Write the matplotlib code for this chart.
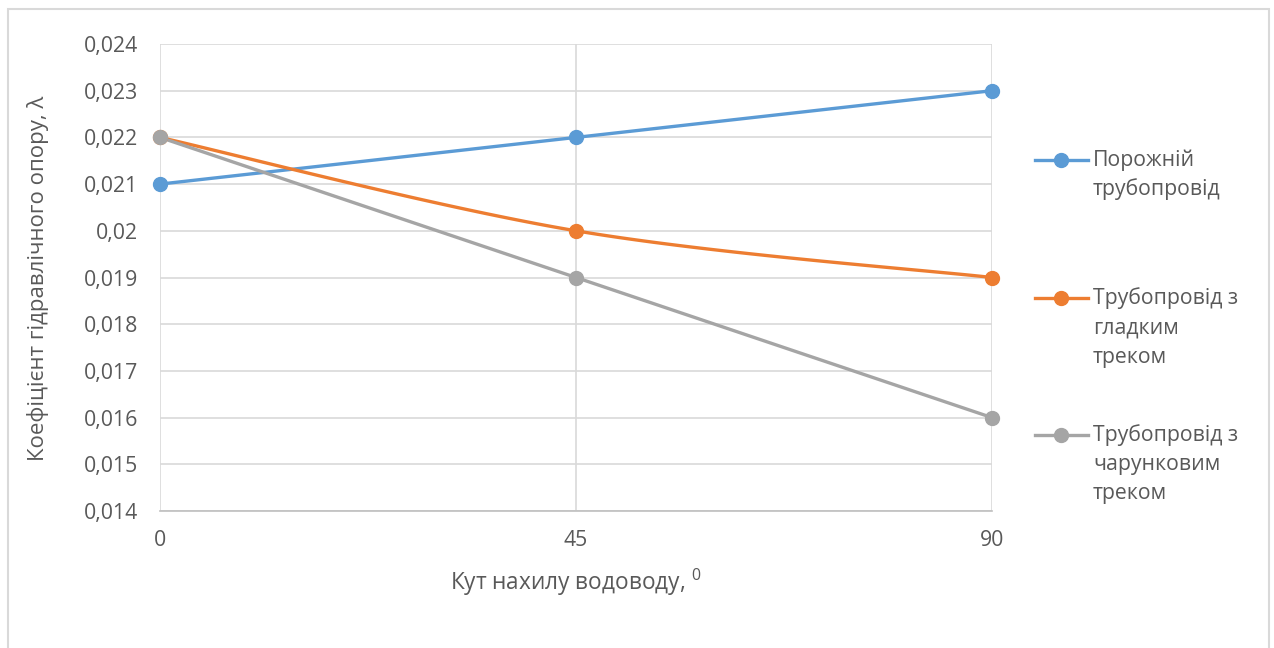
import matplotlib.pyplot as plt
import numpy as np
from matplotlib.lines import Line2D
from matplotlib.patches import Rectangle

plt.rcParams['font.family'] = ['Open Sans', 'DejaVu Sans']

# дані
angles = [0, 45, 90]
empty_pipe = [0.021, 0.022, 0.023]
smooth_track = [0.022, 0.020, 0.019]
cell_track = [0.022, 0.019, 0.016]

series_names = ['Порожній\nтрубопровід',
                'Трубопровід з\nгладким\nтреком',
                'Трубопровід з\nчарунковим\nтреком']
series_colors = ['#5B9BD5', '#ED7D31', '#A5A5A5']
y_ticks = [0.014, 0.015, 0.016, 0.017, 0.018, 0.019, 0.020, 0.021, 0.022, 0.023, 0.024]
x_ticks = [0, 45, 90]

text_color = '#595959'
grid_color = '#D9D9D9'
W, H = 1274, 648


def smooth(x, y, n=60):
    # згладжена лінія кривими Безьє, як у Excel
    pts = np.column_stack([x, y]).astype(float)
    ext = np.vstack([pts[0], pts, pts[-1]])
    out = []
    t = np.linspace(0, 1, n)[:, None]
    for i in range(len(pts) - 1):
        p0 = pts[i]
        p3 = pts[i + 1]
        p1 = p0 + (ext[i + 2] - ext[i]) / 6
        p2 = p3 - (ext[i + 3] - ext[i + 1]) / 6
        seg = ((1 - t) ** 3) * p0 + 3 * ((1 - t) ** 2) * t * p1 + 3 * (1 - t) * t ** 2 * p2 + t ** 3 * p3
        out.append(seg)
    curve = np.vstack(out)
    return curve[:, 0], curve[:, 1]


fig = plt.figure(figsize=(W / 100, H / 100), dpi=100)
fig.patch.set_facecolor('white')

# рамка діаграми
fig.add_artist(Rectangle((8 / W, -0.05), (1269 - 8) / W, 1.05 - 9 / H,
                         transform=fig.transFigure, fill=False,
                         edgecolor='#D9D9D9', linewidth=1.5))

ax = fig.add_axes([160 / W, 1 - 511 / H, (992 - 160) / W, (511 - 44) / H])

for vals, color in zip([empty_pipe, smooth_track, cell_track], series_colors):
    sx, sy = smooth(angles, vals)
    ax.plot(sx, sy, color=color, linewidth=2.4, solid_capstyle='round', zorder=3)
    ax.plot(angles, vals, linestyle='none', marker='o', markersize=10,
            color=color, zorder=4, clip_on=False)

ax.set_xlim(0, 90)
ax.set_ylim(0.014, 0.024)
ax.set_xticks(x_ticks)
ax.set_yticks(y_ticks)
ax.set_yticklabels([f'{v:g}'.replace('.', ',') for v in y_ticks])
ax.set_xticklabels([str(v) for v in x_ticks])
ax.tick_params(axis='both', length=0, labelsize=15.3, labelcolor=text_color)
ax.tick_params(axis='y', pad=16)
ax.tick_params(axis='x', pad=14)

ax.grid(True, color=grid_color, linewidth=1.2, zorder=0)
ax.set_axisbelow(True)
for side in ['top', 'right', 'left']:
    ax.spines[side].set_visible(False)
ax.spines['bottom'].set_color('#BFBFBF')
ax.spines['bottom'].set_linewidth(1.2)
ax.spines['bottom'].set_zorder(1)

fig.text(576 / W, 1 - 582 / H, r'Кут нахилу водоводу, $^{\mathregular{0}}$',
         ha='center', va='center', fontsize=16.3, color=text_color)
fig.text(38 / W, 1 - 278 / H, 'Коефіцієнт гідравлічного опору, λ',
         ha='center', va='center', rotation=90, fontsize=16, color=text_color)

# легенда праворуч
legend_y = [160, 298, 435]
for name, color, ly in zip(series_names, series_colors, legend_y):
    yf = 1 - ly / H
    fig.add_artist(Line2D([1035 / W, 1088 / W], [yf, yf], color=color,
                          linewidth=2.4, transform=fig.transFigure))
    fig.add_artist(Line2D([1061 / W], [yf], marker='o', markersize=10,
                          color=color, transform=fig.transFigure))
    for k, line in enumerate(name.split('\n')):
        fig.text(1093 / W, 1 - (ly + 29.5 * k) / H, line, ha='left', va='center',
                 fontsize=15.3, color=text_color)

fig.savefig('out.png', dpi=100)
